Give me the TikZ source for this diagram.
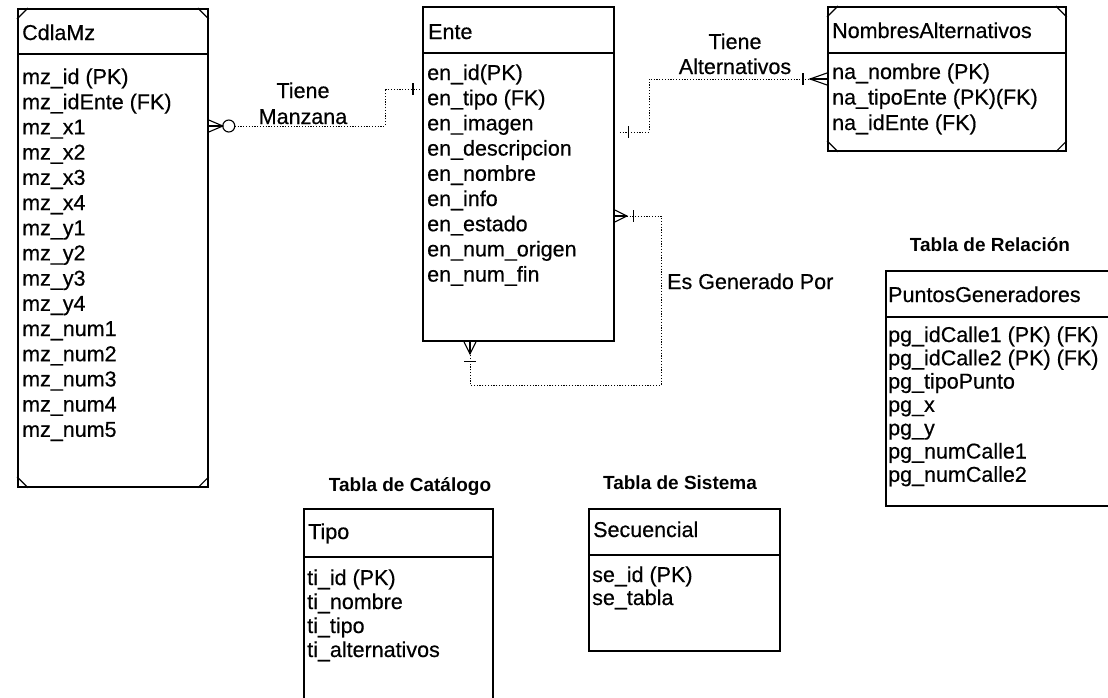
\documentclass[tikz,border=0pt]{standalone}
\usepackage{fontspec}
\setmainfont{Liberation Sans}
\newfontfamily\arialf[FakeBold=0.5]{Liberation Sans}
\newfontfamily\arialb{Liberation Sans}
\newcommand{\attrfont}{\arialf\fontsize{21.5}{25}\selectfont}
\newcommand{\headfont}{\arialb\bfseries\fontsize{19}{22}\selectfont}
\begin{document}
\begin{tikzpicture}[x=1pt,y=-1pt,
  ent/.style={draw, line width=1.8pt, inner sep=0pt, anchor=north west, fill=none},
  attr/.style={font=\attrfont, anchor=base west, inner sep=0pt},
  lbl/.style={font=\attrfont, anchor=base, inner sep=0pt},
  head/.style={font=\headfont, anchor=base, inner sep=0pt},
  sepline/.style={line width=1.5pt},
  notch/.style={line width=1.2pt},
  rel/.style={line width=0.9pt, dash pattern=on 1.2pt off 1.6pt},
  sym/.style={line width=1.1pt}]
\useasboundingbox (0,0) rectangle (1108,697);

% ---------- entity boxes ----------
\node[ent, minimum width=190pt, minimum height=478pt] (cdla) at (17,8) {};
\node[ent, minimum width=191pt, minimum height=334pt] (ente) at (422,6) {};
\node[ent, minimum width=238pt, minimum height=144pt] (na) at (827,6) {};
\node[ent, minimum width=225pt, minimum height=235pt] (pg) at (885,270) {};
\node[ent, minimum width=189pt, minimum height=200pt] (tipo) at (303,508) {};
\node[ent, minimum width=191pt, minimum height=142pt] (sec) at (588,508) {};

% header separators
\draw[sepline] (cdla.west |- 0,54) -- (cdla.east |- 0,54);
\draw[sepline] (ente.west |- 0,53) -- (ente.east |- 0,53);
\draw[sepline] (na.west |- 0,53) -- (na.east |- 0,53);
\draw[sepline] (pg.west |- 0,317) -- (pg.east |- 0,317);
\draw[sepline] (tipo.west |- 0,557) -- (tipo.east |- 0,557);
\draw[sepline] (sec.west |- 0,555) -- (sec.east |- 0,555);

% rounded-corner notches (dependent entities)
\foreach \b in {cdla,na}{
  \draw[notch] ([yshift=-11pt]\b.north west) -- ([xshift=11pt]\b.north west);
  \draw[notch] ([yshift=-11pt]\b.north east) -- ([xshift=-11pt]\b.north east);
  \draw[notch] ([yshift=11pt]\b.south west) -- ([xshift=11pt]\b.south west);
  \draw[notch] ([yshift=11pt]\b.south east) -- ([xshift=-11pt]\b.south east);
}

% ---------- titles ----------
\node[attr] (tcdla) at (22,40) {CdlaMz};
\node[attr] (tente) at (428,39) {Ente};
\node[attr] (tna) at (832,38) {NombresAlternativos};
\node[attr] (tpg) at (888,302) {PuntosGeneradores};
\node[attr] (ttipo) at (308,539) {Tipo};
\node[attr] (tsec) at (593,537) {Secuencial};

% ---------- attributes ----------
\foreach \t [count=\i from 0] in {mz\_id (PK),mz\_idEnte (FK),mz\_x1,mz\_x2,mz\_x3,mz\_x4,mz\_y1,mz\_y2,mz\_y3,mz\_y4,mz\_num1,mz\_num2,mz\_num3,mz\_num4,mz\_num5}
  \node[attr] (ac\i) at (22,84+25.2*\i) {\t};
\foreach \t [count=\i from 0] in {en\_id(PK),en\_tipo (FK),en\_imagen,en\_descripcion,en\_nombre,en\_info,en\_estado,en\_num\_origen,en\_num\_fin}
  \node[attr] (ae\i) at (427,80+25.2*\i) {\t};
\foreach \t [count=\i from 0] in {na\_nombre (PK),na\_tipoEnte (PK)(FK),na\_idEnte (FK)}
  \node[attr] (an\i) at (832,79+25.5*\i) {\t};
\foreach \t [count=\i from 0] in {pg\_idCalle1 (PK) (FK),pg\_idCalle2 (PK) (FK),pg\_tipoPunto,pg\_x,pg\_y,pg\_numCalle1,pg\_numCalle2}
  \node[attr] (ap\i) at (888,342+23.3*\i) {\t};
\foreach \t [count=\i from 0] in {ti\_id (PK),ti\_nombre,ti\_tipo,ti\_alternativos}
  \node[attr] (at\i) at (307,585+24*\i) {\t};
\foreach \t [count=\i from 0] in {se\_id (PK),se\_tabla}
  \node[attr] (as\i) at (592,582+23*\i) {\t};

% ---------- section headings ----------
\node[head] (hcat) at (410,491) {Tabla de Catálogo};
\node[head] (hsis) at (680,489) {Tabla de Sistema};
\node[head] (hrel) at (990,251) {Tabla de Relación};

% ---------- relationship: Tiene Manzana ----------
\coordinate (tm1) at (cdla.east |- 0,126);
\coordinate (tm2) at (385,126);
\coordinate (tm3) at (385,89);
\coordinate (tm4) at (ente.west |- 0,89);
\draw[sym] ([yshift=6pt]tm1) -- ([xshift=14pt]tm1) -- ([yshift=-6pt]tm1);
\draw[sym] (tm1) -- ([xshift=14pt]tm1);
\draw[sym] ([xshift=20pt]tm1) circle (6pt);
\draw[rel] ([xshift=26pt]tm1) -- (tm2) -- (tm3) -- (tm4);
\draw[sym] ([xshift=-9pt,yshift=6pt]tm4) -- ([xshift=-9pt,yshift=-6pt]tm4);
\node[lbl] (ltm1) at (303,98) {Tiene};
\node[lbl] (ltm2) at (303,124) {Manzana};

% ---------- relationship: Tiene Alternativos ----------
\coordinate (ta1) at (ente.east |- 0,132);
\coordinate (ta2) at (649,132);
\coordinate (ta3) at (649,79);
\coordinate (ta4) at (na.west |- 0,79);
\draw[rel] ([xshift=5pt]ta1) -- (ta2) -- (ta3) -- ([xshift=-17pt]ta4);
\draw[sym] ([xshift=14pt,yshift=6pt]ta1) -- ([xshift=14pt,yshift=-6pt]ta1);
\draw[sym] ([xshift=-24pt,yshift=6pt]ta4) -- ([xshift=-24pt,yshift=-6pt]ta4);
\draw[sym] ([yshift=6pt]ta4) -- ([xshift=-17pt]ta4) -- ([yshift=-6pt]ta4);
\draw[sym] (ta4) -- ([xshift=-17pt]ta4);
\node[lbl] (lta1) at (735,49) {Tiene};
\node[lbl] (lta2) at (735,74) {Alternativos};

% ---------- relationship: Es Generado Por (recursive) ----------
\coordinate (eg1) at (ente.east |- 0,216);
\coordinate (eg2) at (661,216);
\coordinate (eg3) at (661,385);
\coordinate (eg4) at (470,385);
\coordinate (eg5) at (ente.south -| 470,0);
\draw[sym] ([yshift=6pt]eg1) -- ([xshift=12pt]eg1) -- ([yshift=-6pt]eg1);
\draw[sym] (eg1) -- ([xshift=12pt]eg1);
\draw[sym] ([xshift=19pt,yshift=6pt]eg1) -- ([xshift=19pt,yshift=-6pt]eg1);
\draw[rel] ([xshift=12pt]eg1) -- (eg2) -- (eg3) -- (eg4) -- ([yshift=-12pt]eg5);
\draw[sym] ([xshift=-6pt]eg5) -- ([yshift=-12pt]eg5) -- ([xshift=6pt]eg5);
\draw[sym] (eg5) -- ([yshift=-12pt]eg5);
\draw[sym] ([xshift=-6pt,yshift=-20pt]eg5) -- ([xshift=6pt,yshift=-20pt]eg5);
\node[attr] (leg) at (667,289) {Es Generado Por};
\end{tikzpicture}
\end{document}
